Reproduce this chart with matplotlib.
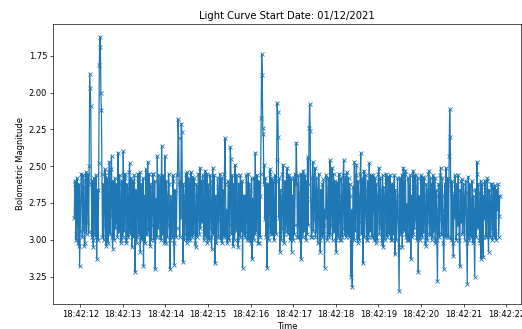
import matplotlib
matplotlib.use("Agg")
import matplotlib.pyplot as plt
import matplotlib.dates as mdates
import pandas as pd

# light curve, one block of 80 samples per second
start_time = "2021-12-01 18:42:11.86"
cadence = "12500us"

mag = [
    # 18:42:11.9 - 12.9
    2.85, 2.60, 2.62, 3.00, 2.96, 2.58, 2.70, 3.02, 3.04, 2.62, 3.18, 2.94, 2.74, 2.55, 2.57, 2.98, 2.93, 2.56, 2.64, 3.04,
    3.02, 2.60, 2.54, 2.96, 2.88, 2.55, 2.60, 2.95, 2.50, 1.87, 1.97, 2.09, 2.62, 2.98, 2.60, 3.00, 3.05, 2.58, 2.72, 2.96,
    2.98, 2.56, 3.13, 2.70, 2.66, 3.00, 2.48, 1.81, 1.62, 1.69, 2.00, 2.12, 2.55, 2.98, 2.62, 3.00, 2.90, 2.56, 2.52, 2.98,
    3.04, 2.58, 2.62, 3.02, 2.93, 2.54, 2.47, 2.96, 2.84, 2.52, 2.43, 2.98, 3.06, 2.60, 2.70, 3.00, 2.58, 2.92, 2.88, 2.62,
    # 12.9 - 13.9
    2.70, 2.98, 2.41, 2.90, 2.95, 2.56, 2.62, 3.02, 3.00, 2.60, 2.68, 2.98, 2.40, 2.94, 2.88, 2.55, 2.58, 3.00, 3.02, 2.62,
    2.65, 2.98, 2.92, 2.54, 2.48, 2.96, 2.80, 2.58, 3.05, 2.62, 2.60, 2.98, 2.90, 2.56, 3.22, 2.70, 2.66, 3.02, 2.98, 2.58,
    2.55, 2.96, 2.86, 2.54, 3.08, 2.66, 2.62, 3.00, 2.94, 2.58, 3.18, 2.74, 2.70, 3.02, 2.52, 2.96, 2.96, 2.56, 2.47, 2.94,
    2.85, 2.55, 3.04, 2.62, 2.64, 3.00, 2.90, 2.55, 2.55, 2.98, 3.00, 2.60, 3.20, 2.80, 2.72, 2.98, 2.43, 2.92, 2.88, 2.56,
    # 13.9 - 14.9
    2.78, 2.98, 2.58, 3.00, 2.36, 2.96, 2.95, 2.56, 2.66, 3.02, 2.43, 2.94, 3.02, 2.60, 2.70, 2.98, 2.90, 2.55, 2.62, 3.00,
    3.20, 2.70, 2.75, 2.98, 2.98, 2.56, 2.60, 3.02, 3.17, 2.66, 2.68, 2.98, 2.92, 2.56, 2.55, 2.18, 2.31, 2.62, 2.98, 2.60,
    2.85, 2.21, 2.27, 2.70, 3.15, 2.62, 2.70, 3.00, 2.96, 2.55, 2.62, 3.02, 2.54, 2.96, 3.00, 2.58, 2.66, 3.00, 2.88, 2.54,
    2.60, 2.98, 2.57, 2.96, 2.94, 2.58, 2.70, 3.02, 3.05, 2.62, 2.64, 2.98, 2.86, 2.55, 2.58, 2.96, 2.51, 2.92, 2.84, 2.60,
    # 14.9 - 15.9
    2.88, 2.56, 2.62, 3.00, 2.96, 2.58, 2.53, 2.98, 2.84, 2.55, 3.02, 2.62, 2.66, 3.00, 2.92, 2.56, 2.60, 2.98, 3.06, 2.64,
    2.51, 2.96, 2.90, 2.56, 3.16, 2.70, 2.70, 3.02, 2.98, 2.58, 2.64, 2.98, 2.86, 2.55, 2.59, 3.00, 2.95, 2.58, 3.02, 2.66,
    2.68, 2.98, 2.55, 2.31, 2.62, 2.98, 2.80, 3.02, 2.98, 2.60, 2.62, 3.00, 2.90, 2.37, 2.45, 2.96, 2.85, 2.56, 3.04, 2.62,
    2.66, 3.00, 2.49, 2.94, 2.92, 2.56, 2.70, 3.00, 3.05, 2.62, 2.62, 2.98, 2.56, 2.94, 2.88, 2.60, 3.19, 2.84, 2.70, 2.96,
    # 15.9 - 16.9
    2.70, 2.98, 2.95, 2.56, 2.62, 3.00, 2.88, 2.55, 3.00, 2.62, 2.66, 3.02, 2.92, 2.58, 3.13, 2.74, 2.72, 3.00, 2.58, 2.96,
    2.41, 2.94, 2.90, 2.56, 2.64, 3.02, 3.02, 2.60, 2.70, 2.98, 2.55, 2.17, 1.74, 1.88, 2.24, 2.28, 2.62, 2.49, 2.86, 2.58,
    2.98, 2.62, 3.19, 2.80, 2.62, 3.00, 2.90, 2.55, 2.52, 2.96, 2.80, 2.58, 2.96, 2.60, 2.70, 3.00, 2.88, 2.56, 2.60, 2.96,
    2.46, 2.07, 2.13, 2.30, 2.85, 2.58, 3.08, 2.66, 2.70, 3.00, 2.92, 2.55, 2.49, 2.96, 3.02, 2.62, 2.60, 2.94, 2.88, 2.56,
    # 16.9 - 17.9
    2.51, 2.96, 2.84, 2.56, 2.66, 3.00, 2.95, 2.58, 3.08, 2.70, 2.70, 3.00, 2.58, 2.96, 2.90, 2.55, 2.62, 2.34, 2.62, 2.98,
    2.98, 2.56, 2.68, 3.00, 2.88, 2.55, 3.13, 2.70, 2.56, 2.98, 2.53, 2.94, 2.92, 2.56, 2.70, 3.00, 2.60, 2.96, 2.44, 2.90,
    2.62, 2.24, 2.08, 2.26, 2.72, 2.98, 2.98, 2.58, 2.47, 2.94, 2.86, 2.56, 2.51, 2.98, 2.94, 2.58, 2.66, 3.02, 2.90, 2.55,
    2.70, 3.00, 3.08, 2.66, 2.76, 2.98, 2.62, 2.96, 2.59, 2.90, 3.19, 2.80, 2.85, 2.56, 2.64, 3.00, 2.96, 2.58, 2.66, 2.98,
    # 17.9 - 18.9
    2.46, 2.96, 2.90, 2.56, 2.51, 3.00, 2.78, 2.55, 2.95, 2.60, 2.64, 3.00, 3.08, 2.62, 2.61, 2.98, 2.88, 2.55, 2.70, 3.00,
    3.00, 2.58, 2.62, 2.98, 2.92, 2.56, 2.46, 2.96, 2.75, 2.58, 2.98, 2.56, 2.54, 2.96, 2.86, 2.58, 2.98, 2.62, 2.70, 3.02,
    3.25, 2.80, 3.32, 2.86, 2.64, 3.00, 2.47, 2.94, 2.92, 2.56, 2.49, 2.98, 3.02, 2.60, 2.70, 3.00, 2.88, 2.55, 2.41, 2.96,
    2.84, 2.58, 3.16, 2.70, 2.53, 2.98, 2.84, 2.56, 2.66, 3.00, 3.00, 2.60, 2.72, 2.98, 2.48, 2.94, 2.90, 2.56, 2.62, 2.98,
    # 18.9 - 19.9
    2.80, 2.56, 2.62, 3.00, 2.95, 2.58, 3.02, 2.62, 2.70, 3.00, 2.88, 2.55, 2.51, 2.96, 2.92, 2.58, 2.66, 3.02, 2.98, 2.56,
    3.05, 2.64, 2.72, 3.00, 2.86, 2.55, 2.60, 2.98, 2.94, 2.58, 2.57, 2.96, 2.80, 2.56, 3.00, 2.62, 2.68, 3.00, 2.62, 2.96,
    2.90, 2.56, 3.10, 2.66, 2.74, 3.00, 2.85, 2.58, 2.70, 3.05, 3.35, 2.80, 2.58, 2.96, 2.96, 2.56, 3.05, 2.62, 2.51, 2.94,
    2.88, 2.55, 2.53, 2.98, 2.76, 3.00, 3.00, 2.58, 2.64, 3.00, 2.90, 2.56, 3.13, 2.70, 2.70, 2.98, 2.53, 2.96, 2.56, 2.92,
    # 19.9 - 20.9
    2.86, 2.56, 2.64, 3.00, 2.98, 2.58, 3.22, 2.70, 2.72, 3.00, 2.90, 2.56, 2.60, 2.98, 2.57, 2.94, 2.95, 2.58, 2.70, 3.02,
    3.04, 2.62, 2.66, 3.00, 2.88, 2.55, 2.53, 2.96, 2.97, 2.58, 2.74, 3.00, 2.62, 2.98, 2.56, 2.94, 2.92, 2.58, 3.02, 2.66,
    2.70, 3.00, 3.28, 2.80, 2.62, 2.98, 2.86, 2.56, 2.51, 2.96, 2.96, 2.58, 2.80, 3.02, 3.20, 2.70, 2.62, 2.98, 2.51, 2.96,
    2.98, 2.58, 2.60, 2.98, 2.43, 2.11, 2.30, 2.62, 3.00, 2.60, 2.68, 3.02, 3.11, 2.70, 2.85, 2.56, 2.72, 3.00, 2.96, 2.62,
    # 20.9 - 21.9
    2.90, 2.56, 2.74, 3.00, 3.18, 2.66, 2.88, 2.60, 2.59, 2.96, 2.95, 2.62, 2.70, 3.00, 2.82, 2.60, 2.68, 3.02, 3.30, 2.80,
    2.57, 2.96, 3.00, 2.62, 2.72, 2.98, 2.92, 2.60, 2.66, 3.02, 2.70, 2.96, 3.25, 2.80, 2.66, 2.98, 2.47, 2.55, 2.92, 2.62,
    2.68, 3.00, 3.02, 2.60, 3.13, 2.74, 2.62, 2.98, 3.12, 2.70, 2.86, 2.60, 2.66, 2.98, 2.98, 2.60, 2.58, 2.96, 3.08, 2.66,
    2.70, 2.98, 2.92, 2.62, 2.62, 3.00, 2.96, 2.64, 2.72, 2.98, 2.63, 2.94, 3.00, 2.66, 2.80, 2.70, 2.62, 2.98, 2.84, 2.70,
]

times = pd.date_range(start=start_time, periods=len(mag), freq=cadence)

fig = plt.figure(figsize=(522 / 60, 329 / 60), dpi=60)
ax = fig.add_axes([53 / 522, 25 / 329, 468 / 522, 280 / 329])

ax.plot(times, mag, marker='x', markersize=4)
ax.invert_yaxis()

ax.xaxis.set_major_locator(mdates.SecondLocator(interval=1))
ax.xaxis.set_major_formatter(mdates.DateFormatter('%H:%M:%S'))

ax.set_xlabel('Time')
ax.set_ylabel('Bolometric Magnitude')
ax.set_title('Light Curve Start Date: 01/12/2021')

fig.savefig('out.png', dpi=60)
